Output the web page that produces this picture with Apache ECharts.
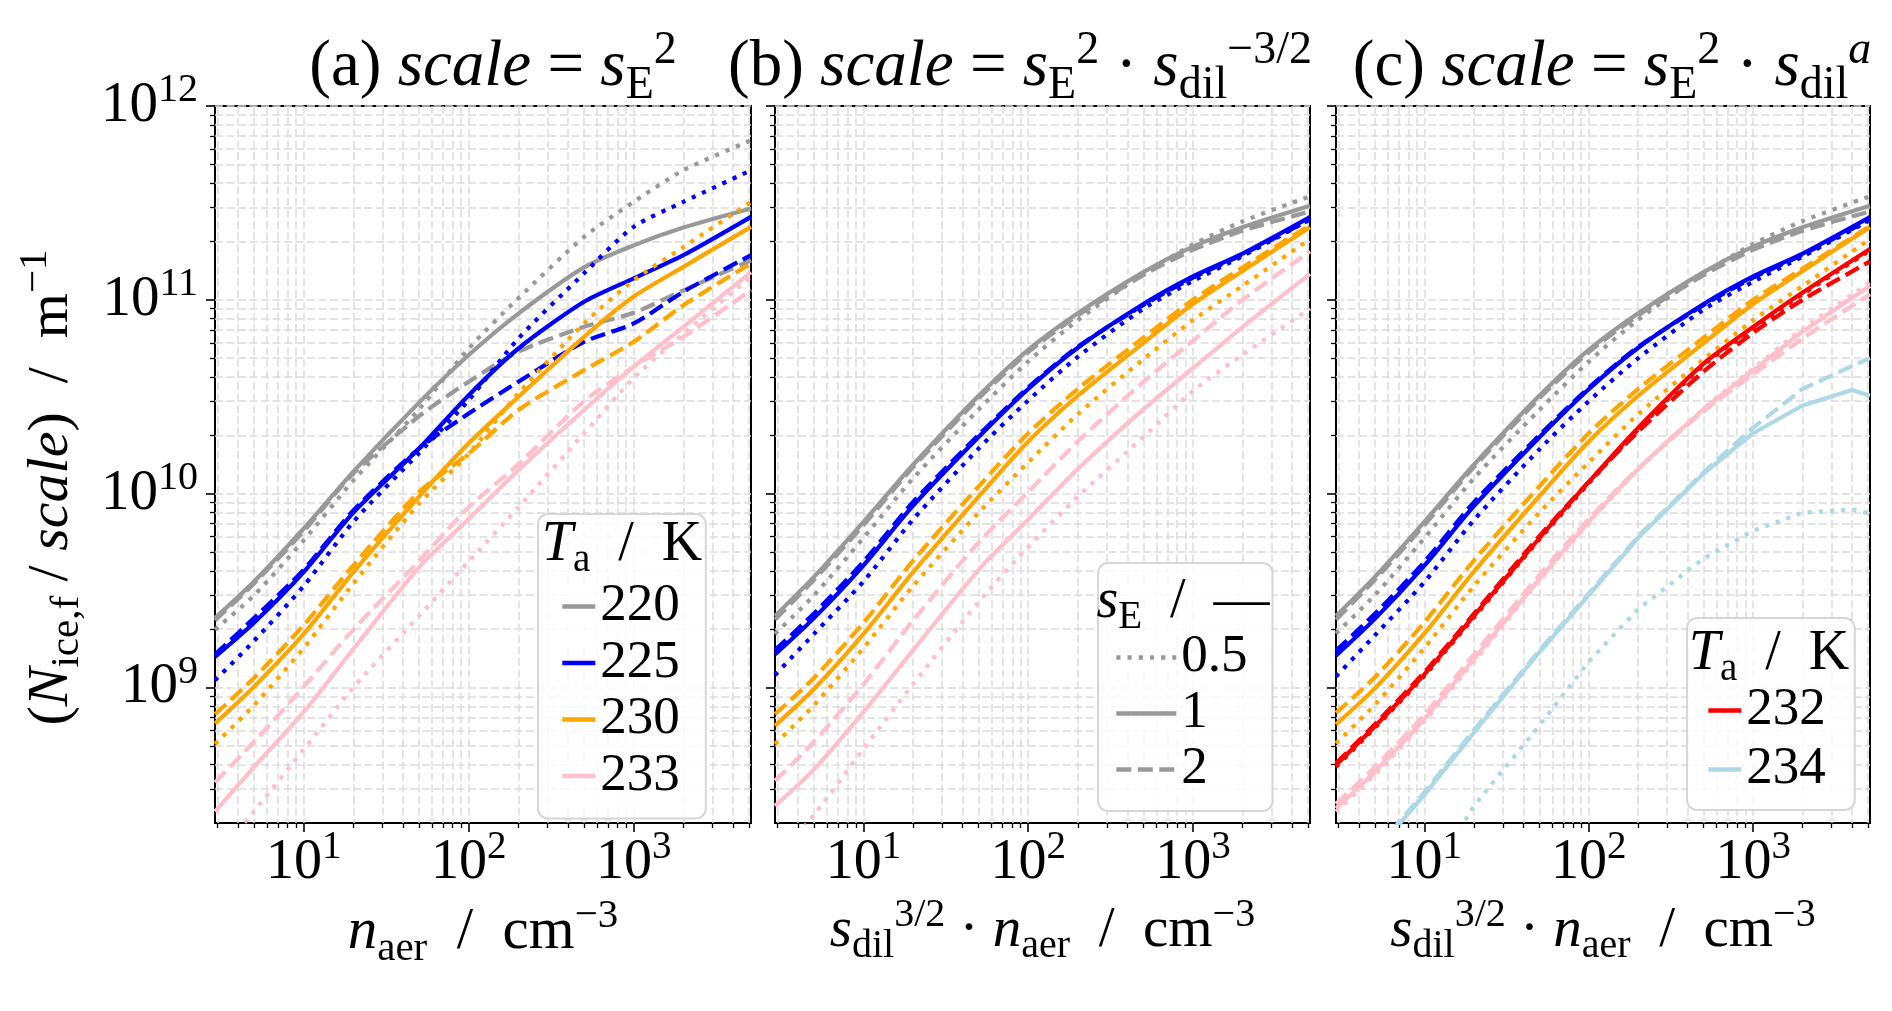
<!DOCTYPE html>
<html>
<head>
<meta charset="utf-8">
<script src="https://cdn.jsdelivr.net/npm/echarts@6/dist/echarts.min.js"></script>
<style>
html,body{margin:0;padding:0;background:#ffffff;}
#chart{width:1892px;height:1011px;}
</style>
</head>
<body>
<div id="chart"></div>
<script>
// ---------------- data ----------------
const X_VALUES = [2.9, 5, 10, 20, 50, 100, 200, 500, 1000, 2000, 5140];
const X_VALUES_234 = [2.9, 5, 10, 20, 50, 100, 200, 500, 1000, 2000, 4000, 5140];

// panel (a): scale = sE^2
const A_220_S05 = [1.99e9, 2.99e9, 5.75e9, 1.17e10, 2.72e10, 5.61e10, 1.02e11, 2.11e11, 3.20e11, 4.66e11, 6.65e11];
const A_220_S1  = [2.28e9, 3.52e9, 6.61e9, 1.30e10, 2.95e10, 5.19e10, 8.49e10, 1.47e11, 1.91e11, 2.36e11, 2.96e11];
const A_220_S2  = [2.22e9, 3.44e9, 6.41e9, 1.27e10, 2.51e10, 3.78e10, 5.40e10, 7.26e10, 8.57e10, 1.12e11, 1.60e11];
const A_225_S05 = [1.09e9, 1.74e9, 3.34e9, 7.16e9, 1.62e10, 3.04e10, 6.32e10, 1.37e11, 2.38e11, 3.20e11, 4.66e11];
const A_225_S1  = [1.44e9, 2.16e9, 3.94e9, 7.98e9, 1.71e10, 3.22e10, 5.61e10, 9.77e10, 1.29e11, 1.70e11, 2.68e11];
const A_225_S2  = [1.48e9, 2.28e9, 4.05e9, 8.20e9, 1.71e10, 2.59e10, 3.78e10, 6.07e10, 7.55e10, 1.10e11, 1.70e11];
const A_230_S05 = [5.11e8, 8.11e8, 1.60e9, 3.44e9, 8.89e9, 1.61e10, 3.29e10, 7.55e10, 1.26e11, 1.87e11, 3.20e11];
const A_230_S1  = [6.52e8, 1.01e9, 1.89e9, 3.94e9, 9.66e9, 1.82e10, 3.16e10, 6.44e10, 1.04e11, 1.48e11, 2.38e11];
const A_230_S2  = [7.28e8, 1.12e9, 2.10e9, 4.27e9, 1.02e10, 1.61e10, 2.70e10, 4.34e10, 6.07e10, 9.38e10, 1.54e11];
const A_233_S05 = [1.35e8, 2.30e8, 4.79e8, 1.00e9, 2.34e9, 4.47e9, 8.50e9, 2.05e10, 3.94e10, 6.70e10, 1.31e11];
const A_233_S1  = [2.29e8, 3.89e8, 7.48e8, 1.58e9, 4.17e9, 7.41e9, 1.32e10, 2.70e10, 4.52e10, 7.26e10, 1.39e11];
const A_233_S2  = [3.24e8, 5.25e8, 1.01e9, 1.99e9, 4.50e9, 8.50e9, 1.42e10, 3.00e10, 4.52e10, 6.44e10, 1.12e11];

// panel (b): scale = sE^2 * sdil^(-3/2)
const B_220_S05 = [1.89e9, 2.99e9, 5.92e9, 1.20e10, 2.72e10, 4.81e10, 7.85e10, 1.36e11, 1.93e11, 2.54e11, 3.42e11];
const B_220_S1  = [2.34e9, 3.72e9, 7.16e9, 1.41e10, 3.20e10, 5.52e10, 8.53e10, 1.39e11, 1.88e11, 2.37e11, 3.06e11];
const B_220_S2  = [2.24e9, 3.59e9, 6.89e9, 1.37e10, 3.10e10, 5.37e10, 8.30e10, 1.34e11, 1.81e11, 2.27e11, 2.86e11];
const B_225_S05 = [1.16e9, 1.89e9, 3.53e9, 7.36e9, 1.71e10, 3.03e10, 5.08e10, 8.99e10, 1.25e11, 1.68e11, 2.60e11];
const B_225_S1  = [1.48e9, 2.28e9, 4.27e9, 8.67e9, 1.96e10, 3.47e10, 5.66e10, 9.51e10, 1.32e11, 1.73e11, 2.67e11];
const B_225_S2  = [1.56e9, 2.41e9, 4.46e9, 9.06e9, 2.01e10, 3.53e10, 5.73e10, 9.40e10, 1.30e11, 1.71e11, 2.60e11];
const B_230_S05 = [5.11e8, 8.11e8, 1.60e9, 3.34e9, 7.98e9, 1.45e10, 2.57e10, 4.94e10, 7.85e10, 1.18e11, 2.06e11];
const B_230_S1  = [6.35e8, 9.82e8, 1.89e9, 3.94e9, 9.66e9, 1.86e10, 3.20e10, 5.98e10, 9.51e10, 1.41e11, 2.37e11];
const B_230_S2  = [7.28e8, 1.12e9, 2.16e9, 4.51e9, 1.09e10, 2.05e10, 3.47e10, 6.38e10, 1.00e11, 1.47e11, 2.43e11];
const B_233_S05 = [1.26e8, 2.20e8, 4.83e8, 1.04e9, 2.76e9, 5.31e9, 9.66e9, 1.96e10, 3.38e10, 5.22e10, 8.99e10];
const B_233_S1  = [2.45e8, 3.78e8, 7.48e8, 1.56e9, 4.05e9, 7.36e9, 1.34e10, 2.72e10, 4.44e10, 7.24e10, 1.36e11];
const B_233_S2  = [3.30e8, 5.25e8, 1.04e9, 2.22e9, 5.60e9, 1.02e10, 1.86e10, 3.77e10, 6.15e10, 1.00e11, 1.78e11];

// panel (c): scale = sE^2 * sdil^a
const C_220_S05 = [1.90e9, 3.00e9, 5.90e9, 1.20e10, 2.70e10, 4.80e10, 7.90e10, 1.37e11, 1.94e11, 2.55e11, 3.42e11];
const C_220_S1  = [2.34e9, 3.72e9, 7.16e9, 1.41e10, 3.20e10, 5.52e10, 8.53e10, 1.39e11, 1.88e11, 2.37e11, 3.06e11];
const C_220_S2  = [2.24e9, 3.59e9, 6.89e9, 1.37e10, 3.10e10, 5.37e10, 8.30e10, 1.34e11, 1.81e11, 2.27e11, 2.86e11];
const C_225_S05 = [1.14e9, 1.86e9, 3.50e9, 7.30e9, 1.69e10, 3.00e10, 5.00e10, 8.90e10, 1.24e11, 1.67e11, 2.58e11];
const C_225_S1  = [1.46e9, 2.26e9, 4.25e9, 8.62e9, 1.95e10, 3.46e10, 5.66e10, 9.51e10, 1.32e11, 1.73e11, 2.67e11];
const C_225_S2  = [1.55e9, 2.40e9, 4.45e9, 9.02e9, 2.00e10, 3.52e10, 5.72e10, 9.40e10, 1.30e11, 1.71e11, 2.60e11];
const C_230_S05 = [5.15e8, 8.15e8, 1.60e9, 3.34e9, 7.98e9, 1.45e10, 2.57e10, 4.94e10, 7.85e10, 1.18e11, 2.06e11];
const C_230_S1  = [6.45e8, 9.90e8, 1.90e9, 3.96e9, 9.70e9, 1.86e10, 3.20e10, 5.98e10, 9.51e10, 1.41e11, 2.37e11];
const C_230_S2  = [7.40e8, 1.13e9, 2.17e9, 4.52e9, 1.09e10, 2.05e10, 3.47e10, 6.38e10, 1.00e11, 1.45e11, 2.40e11];
const C_232_S05 = [3.90e8, 6.20e8, 1.15e9, 2.30e9, 5.80e9, 1.13e10, 2.15e10, 4.60e10, 7.10e10, 1.07e11, 1.80e11];
const C_232_S1  = [3.98e8, 6.31e8, 1.17e9, 2.34e9, 5.89e9, 1.15e10, 2.19e10, 4.69e10, 7.24e10, 1.09e11, 1.83e11];
const C_232_S2  = [4.07e8, 6.46e8, 1.20e9, 2.40e9, 6.03e9, 1.15e10, 2.09e10, 4.27e10, 6.76e10, 1.00e11, 1.58e11];
const C_233_S05 = [2.29e8, 3.55e8, 6.68e8, 1.36e9, 3.55e9, 7.08e9, 1.33e10, 2.75e10, 4.42e10, 7.08e10, 1.23e11];
const C_233_S1  = [2.38e8, 3.68e8, 6.89e8, 1.40e9, 3.62e9, 7.16e9, 1.34e10, 2.72e10, 4.32e10, 6.85e10, 1.18e11];
const C_233_S2  = [2.51e8, 3.89e8, 7.24e8, 1.48e9, 3.80e9, 7.41e9, 1.35e10, 2.66e10, 4.12e10, 6.31e10, 1.07e11];
const C_234_S05 = [1.26e7, 3.16e7, 9.33e7, 2.45e8, 6.35e8, 1.36e9, 2.54e9, 4.63e9, 6.43e9, 7.98e9, 8.30e9, 7.91e9];
const C_234_S1  = [8.13e7, 1.41e8, 2.79e8, 5.85e8, 1.52e9, 3.00e9, 5.92e9, 1.27e10, 2.05e10, 2.85e10, 3.43e10, 3.20e10];
const C_234_S2  = [8.32e7, 1.44e8, 2.88e8, 6.03e8, 1.55e9, 3.05e9, 6.03e9, 1.29e10, 2.19e10, 3.47e10, 4.56e10, 5.00e10];

// axes / ticks
const X_MIN = 2.9, X_MAX = 5140;
const Y_MIN = 2e8, Y_MAX = 1e12;
const X_MAJOR_TICKS = [10, 100, 1000];
const X_MINOR_TICKS = [3, 4, 5, 6, 7, 8, 9, 20, 30, 40, 50, 60, 70, 80, 90, 200, 300, 400, 500, 600, 700, 800, 900, 2000, 3000, 4000, 5000];
const Y_MAJOR_TICKS = [1e9, 1e10, 1e11, 1e12];
const Y_MINOR_TICKS = [3e8, 4e8, 5e8, 6e8, 7e8, 8e8, 9e8, 2e9, 3e9, 4e9, 5e9, 6e9, 7e9, 8e9, 9e9, 2e10, 3e10, 4e10, 5e10, 6e10, 7e10, 8e10, 9e10, 2e11, 3e11, 4e11, 5e11, 6e11, 7e11, 8e11, 9e11];

const LEGEND_A = ['220', '225', '230', '233'];
const LEGEND_B = ['0.5', '1', '2'];
const LEGEND_C = ['232', '234'];

// ---------------- styling ----------------
const F = 'Liberation Serif';
const COLORS = {220: '#999999', 225: '#0000ff', 230: '#ffa500', 232: '#ff0000', 233: '#ffc0cb', 234: '#add8e6'};
const LW = 4.2;
const DASH = {'0.5': [4.2, 7], '1': 'solid', '2': [15, 6.5]};
const GRID_LINE = {color: '#dcdcdc', width: 1.5, type: [8, 3.5]};

function rich(size) {
  const s = Math.round(size * 0.7);
  return {
    r: {fontFamily: F, fontSize: size, lineHeight: Math.round(size * 1.25), color: '#000'},
    it: {fontFamily: F, fontSize: size, fontStyle: 'italic', lineHeight: Math.round(size * 1.25), color: '#000'},
    sub: {fontFamily: F, fontSize: s, lineHeight: s, verticalAlign: 'bottom', color: '#000'},
    sup: {fontFamily: F, fontSize: s, lineHeight: s, verticalAlign: 'top', color: '#000'},
    supit: {fontFamily: F, fontSize: s, fontStyle: 'italic', lineHeight: s, verticalAlign: 'top', color: '#000'}
  };
}
function powLabel(v) {
  return '{r|10}{sup|' + Math.round(Math.log10(v)) + '}';
}

const GRIDS = [
  {left: 215, width: 536},
  {left: 775, width: 535},
  {left: 1336, width: 534}
];
const X_NAMES = [
  '{it|n}{sub|aer}{r|  /  cm}{sup|−3}',
  '{it|s}{sub|dil}{sup|3/2}{r| · }{it|n}{sub|aer}{r|  /  cm}{sup|−3}',
  '{it|s}{sub|dil}{sup|3/2}{r| · }{it|n}{sub|aer}{r|  /  cm}{sup|−3}'
];
const Y_NAME = '{r|(}{it|N}{sub|ice,f}{r| / }{it|scale}{r|)  /  m}{sup|−1}';

const xAxes = [], yAxes = [];
GRIDS.forEach((g, gi) => {
  xAxes.push({
    type: 'log', logBase: 10, gridIndex: gi, min: X_MIN, max: X_MAX, position: 'bottom',
    axisLine: {show: false, onZero: false},
    axisTick: {show: true, customValues: X_MAJOR_TICKS, length: 9, lineStyle: {color: '#000', width: 1.6}},
    axisLabel: {show: true, customValues: X_MAJOR_TICKS, margin: 5, formatter: powLabel, rich: rich(56)},
    splitLine: {show: true, lineStyle: GRID_LINE},
    name: X_NAMES[gi], nameLocation: 'middle', nameGap: gi === 0 ? 54 : 62,
    nameTextStyle: {rich: rich(gi === 0 ? 59 : 57)}
  });
  xAxes.push({
    type: 'log', logBase: 10, gridIndex: gi, min: X_MIN, max: X_MAX, position: 'bottom',
    axisLine: {show: false, onZero: false},
    axisTick: {show: true, customValues: X_MINOR_TICKS, length: 5, lineStyle: {color: '#000', width: 1.3}},
    axisLabel: {show: false},
    splitLine: {show: true, lineStyle: GRID_LINE}
  });
  const yMajor = {
    type: 'log', logBase: 10, gridIndex: gi, min: Y_MIN, max: Y_MAX, position: 'left',
    axisLine: {show: false, onZero: false},
    axisTick: {show: true, customValues: Y_MAJOR_TICKS, length: 9, lineStyle: {color: '#000', width: 1.6}},
    axisLabel: {show: gi === 0, customValues: Y_MAJOR_TICKS, margin: 17, formatter: powLabel, rich: rich(57)},
    splitLine: {show: true, lineStyle: GRID_LINE}
  };
  if (gi === 0) {
    yMajor.name = Y_NAME;
    yMajor.nameLocation = 'middle';
    yMajor.nameRotate = 90;
    yMajor.nameGap = 127;
    yMajor.nameTextStyle = {rich: rich(58), padding: [0, 46, 0, 0]};
  }
  yAxes.push(yMajor);
  yAxes.push({
    type: 'log', logBase: 10, gridIndex: gi, min: Y_MIN, max: Y_MAX, position: 'left',
    axisLine: {show: false, onZero: false},
    axisTick: {show: true, customValues: Y_MINOR_TICKS, length: 5, lineStyle: {color: '#000', width: 1.3}},
    axisLabel: {show: false},
    splitLine: {show: true, lineStyle: GRID_LINE}
  });
});

const CURVES = [
  [0, 220, '0.5', X_VALUES, A_220_S05], [0, 220, '1', X_VALUES, A_220_S1], [0, 220, '2', X_VALUES, A_220_S2],
  [0, 225, '0.5', X_VALUES, A_225_S05], [0, 225, '1', X_VALUES, A_225_S1], [0, 225, '2', X_VALUES, A_225_S2],
  [0, 230, '0.5', X_VALUES, A_230_S05], [0, 230, '1', X_VALUES, A_230_S1], [0, 230, '2', X_VALUES, A_230_S2],
  [0, 233, '0.5', X_VALUES, A_233_S05], [0, 233, '1', X_VALUES, A_233_S1], [0, 233, '2', X_VALUES, A_233_S2],
  [1, 220, '0.5', X_VALUES, B_220_S05], [1, 220, '1', X_VALUES, B_220_S1], [1, 220, '2', X_VALUES, B_220_S2],
  [1, 225, '0.5', X_VALUES, B_225_S05], [1, 225, '1', X_VALUES, B_225_S1], [1, 225, '2', X_VALUES, B_225_S2],
  [1, 230, '0.5', X_VALUES, B_230_S05], [1, 230, '1', X_VALUES, B_230_S1], [1, 230, '2', X_VALUES, B_230_S2],
  [1, 233, '0.5', X_VALUES, B_233_S05], [1, 233, '1', X_VALUES, B_233_S1], [1, 233, '2', X_VALUES, B_233_S2],
  [2, 220, '0.5', X_VALUES, C_220_S05], [2, 220, '1', X_VALUES, C_220_S1], [2, 220, '2', X_VALUES, C_220_S2],
  [2, 225, '0.5', X_VALUES, C_225_S05], [2, 225, '1', X_VALUES, C_225_S1], [2, 225, '2', X_VALUES, C_225_S2],
  [2, 230, '0.5', X_VALUES, C_230_S05], [2, 230, '1', X_VALUES, C_230_S1], [2, 230, '2', X_VALUES, C_230_S2],
  [2, 232, '0.5', X_VALUES, C_232_S05], [2, 232, '1', X_VALUES, C_232_S1], [2, 232, '2', X_VALUES, C_232_S2],
  [2, 233, '0.5', X_VALUES, C_233_S05], [2, 233, '1', X_VALUES, C_233_S1], [2, 233, '2', X_VALUES, C_233_S2],
  [2, 234, '0.5', X_VALUES_234, C_234_S05], [2, 234, '1', X_VALUES_234, C_234_S1], [2, 234, '2', X_VALUES_234, C_234_S2]
];

function seriesName(gi, T, s) {
  if (gi === 0 && s === '1') return String(T);
  if (gi === 1 && T === 220) return s;
  if (gi === 2 && s === '1' && (T === 232 || T === 234)) return String(T);
  return 'p' + gi + '-' + T + '-' + s;
}

const series = CURVES.map(([gi, T, s, xs, ys]) => ({
  type: 'line',
  name: seriesName(gi, T, s),
  xAxisIndex: gi * 2,
  yAxisIndex: gi * 2,
  data: xs.map((x, i) => [x, ys[i]]),
  symbol: 'none',
  showSymbol: false,
  smooth: T === 234 ? false : 0.25,
  clip: true,
  silent: true,
  animation: false,
  lineStyle: {color: COLORS[T], width: LW, type: DASH[s], cap: 'butt', join: 'round'},
  itemStyle: {color: COLORS[T]},
  z: 2
}));

const legendBase = {
  orient: 'vertical', itemHeight: 20, selectedMode: false,
  backgroundColor: 'rgba(255,255,255,0.82)', borderColor: '#d6d6d6', borderWidth: 2, borderRadius: 10,
  itemStyle: {opacity: 0, color: 'rgba(0,0,0,0)', borderWidth: 0},
  lineStyle: {width: 4.6},
  textStyle: {fontFamily: F, fontSize: 53, lineHeight: 52, color: '#000'},
  z: 5
};
const legends = [
  Object.assign({}, legendBase, {data: LEGEND_A, left: 538, top: 514, itemWidth: 33, itemGap: 3.5, padding: [66, 26, 16, 22]}),
  Object.assign({}, legendBase, {data: LEGEND_B, left: 1098, top: 563, itemWidth: 60, itemGap: 3, padding: [68, 25, 15, 16]}),
  Object.assign({}, legendBase, {data: LEGEND_C, left: 1687, top: 618, itemWidth: 33, itemGap: 6, padding: [66, 29, 14, 19]})
];

function label(x, y, text, size) {
  return {
    type: 'text', x: x, y: y, z: 100, silent: true,
    style: {text: text, rich: rich(size), align: 'center', verticalAlign: 'middle',
            textAlign: 'center', textVerticalAlign: 'middle', fontFamily: F, fontSize: size, fill: '#000'}
  };
}
const graphics = [
  label(493, 68, '{r|(a) }{it|scale}{r| = }{it|s}{sub|E}{sup|2}', 65),
  label(1020, 68, '{r|(b) }{it|scale}{r| = }{it|s}{sub|E}{sup|2}{r| · }{it|s}{sub|dil}{sup|−3/2}', 65),
  label(1612, 68, '{r|(c) }{it|scale}{r| = }{it|s}{sub|E}{sup|2}{r| · }{it|s}{sub|dil}{supit|a}', 65),
  label(622, 545, '{it|T}{sub|a}{r|  /  K}', 56),
  label(1183, 602, '{it|s}{sub|E}{r|  /  —}', 56),
  label(1769, 654, '{it|T}{sub|a}{r|  /  K}', 56)
];

const chart = echarts.init(document.getElementById('chart'), null, {renderer: 'canvas', width: 1892, height: 1011});
chart.setOption({
  backgroundColor: '#ffffff',
  animation: false,
  textStyle: {fontFamily: F},
  grid: GRIDS.map(g => ({left: g.left, top: 106, width: g.width, height: 717, show: true,
    borderColor: '#000', borderWidth: 2, backgroundColor: 'rgba(0,0,0,0)', containLabel: false, outerBoundsMode: 'none'})),
  xAxis: xAxes,
  yAxis: yAxes,
  legend: legends,
  series: series,
  graphic: {elements: graphics}
});
</script>
</body>
</html>
